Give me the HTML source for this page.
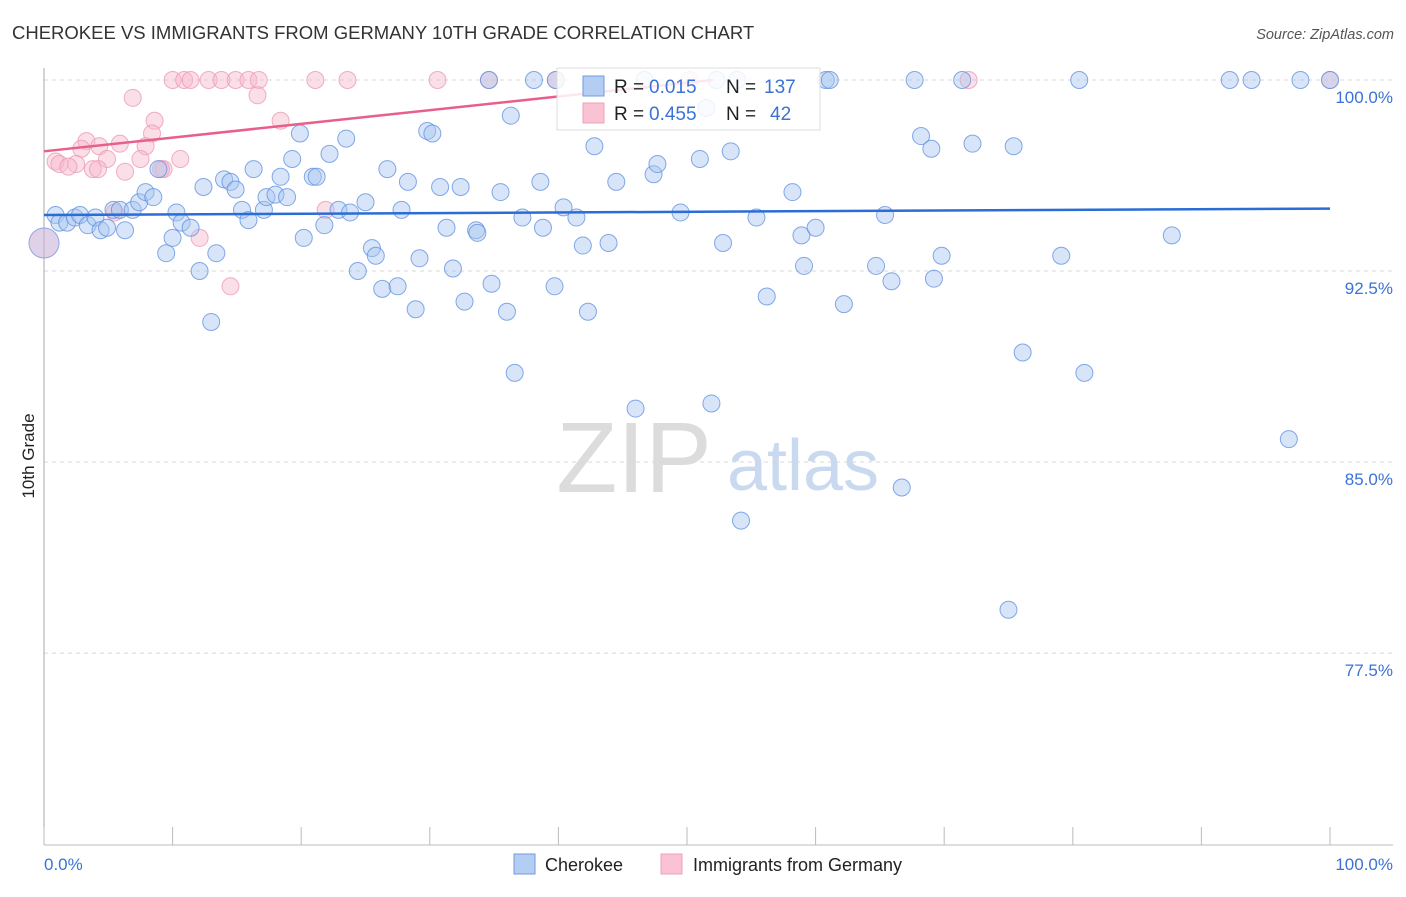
<!DOCTYPE html>
<html><head><meta charset="utf-8"><style>
body{margin:0;background:#fff;font-family:"Liberation Sans",sans-serif}
svg text{font-family:"Liberation Sans",sans-serif}
</style></head><body>
<svg id="chart" width="1406" height="892" xmlns="http://www.w3.org/2000/svg">
<text x="12" y="39" font-size="18.5" fill="#333">CHEROKEE VS IMMIGRANTS FROM GERMANY 10TH GRADE CORRELATION CHART</text>
<text x="1394" y="39" font-size="14.5" fill="#555" font-style="italic" text-anchor="end">Source: ZipAtlas.com</text>
<text x="0" y="0" font-size="17" fill="#222" transform="translate(34,456) rotate(-90)" text-anchor="middle">10th Grade</text>
<g>
<text x="634" y="492" font-size="100" fill="#dcdcdc" font-family="Liberation Serif" text-anchor="middle">ZIP</text>
<text x="803" y="490" font-size="72" fill="#c9d9f0" text-anchor="middle">atlas</text>
</g>
<g id="grid"></g>
<g id="axes"></g>
<g id="pinkPts"></g>
<g id="bluePts"></g>
<g id="trends"></g>
<g>
<rect x="557" y="68" width="263" height="62" fill="#fff" fill-opacity="0.85" stroke="#ddd"/>
<rect x="583" y="76" width="21" height="20" fill="#b3cdf3" stroke="#6f9be0"/>
<rect x="583" y="103" width="21" height="20" fill="#f9c3d3" stroke="#eea1b8"/>
<text x="614" y="93" font-size="19" fill="#222">R = </text><text x="649" y="93" font-size="19" fill="#3a73d6">0.015</text>
<text x="726" y="93" font-size="19" fill="#222">N = </text><text x="764" y="93" font-size="19" fill="#3a73d6">137</text>
<text x="614" y="120" font-size="19" fill="#222">R = </text><text x="649" y="120" font-size="19" fill="#3a73d6">0.455</text>
<text x="726" y="120" font-size="19" fill="#222">N = </text><text x="770" y="120" font-size="19" fill="#3a73d6">42</text>
</g>
<g>
<rect x="514" y="854" width="21" height="20" fill="#b3cdf3" stroke="#6f9be0"/>
<text x="545" y="871" font-size="18" fill="#222">Cherokee</text>
<rect x="661" y="854" width="21" height="20" fill="#f9c3d3" stroke="#eea1b8"/>
<text x="693" y="871" font-size="18" fill="#222">Immigrants from Germany</text>
</g>
</svg>
<script>
const yTicks=[100,92.5,85,77.5];
const yTickLabels=["100.0%","92.5%","85.0%","77.5%"];
const xTicks=[0,10,20,30,40,50,60,70,80,90,100];
const xEndLabels=["0.0%","100.0%"];
const blueX=[0.9,1.2,1.8,2.4,2.8,3.4,4.0,4.4,4.9,5.4,5.9,6.3,6.9,7.4,7.9,8.5,8.9,9.5,10.0,10.3,10.7,11.4,12.1,12.4,13.0,13.4,14.0,14.5,14.9,15.4,15.9,16.3,17.1,17.3,18.0,18.4,18.9,19.3,19.9,20.2,20.9,21.2,21.8,22.2,22.9,23.5,23.8,24.4,25.0,25.5,25.8,26.3,26.7,27.5,27.8,28.3,28.9,29.2,29.8,30.2,30.8,31.3,31.8,32.4,32.7,33.6,33.7,34.8,35.5,36.0,36.3,36.6,37.2,38.1,38.6,38.8,39.7,40.4,41.4,41.9,42.3,42.8,43.9,44.5,46.0,47.4,47.7,49.5,51.0,51.9,52.8,53.4,54.2,55.4,56.2,58.2,58.9,59.1,60.0,60.8,61.1,62.2,64.7,65.4,65.9,66.7,67.7,68.2,69.0,69.2,69.8,71.4,72.2,75.0,75.4,76.1,79.1,80.5,80.9,87.7,92.2,93.9,96.8,97.7,100,34.6,39.8,52.3,53.9,51.5,46.7];
const blueY=[94.7,94.4,94.4,94.6,94.7,94.3,94.6,94.1,94.2,94.9,94.9,94.1,94.9,95.2,95.6,95.4,96.5,93.2,93.8,94.8,94.4,94.2,92.5,95.8,90.5,93.2,96.1,96.0,95.7,94.9,94.5,96.5,94.9,95.4,95.5,96.2,95.4,96.9,97.9,93.8,96.2,96.2,94.3,97.1,94.9,97.7,94.8,92.5,95.2,93.4,93.1,91.8,96.5,91.9,94.9,96.0,91.0,93.0,98.0,97.9,95.8,94.2,92.6,95.8,91.3,94.1,94.0,92.0,95.6,90.9,98.6,88.5,94.6,100,96.0,94.2,91.9,95.0,94.6,93.5,90.9,97.4,93.6,96.0,87.1,96.3,96.7,94.8,96.9,87.3,93.6,97.2,82.7,94.6,91.5,95.6,93.9,92.7,94.2,100,100,91.2,92.7,94.7,92.1,84.0,100,97.8,97.3,92.2,93.1,100,97.5,79.2,97.4,89.3,93.1,100,88.5,93.9,100,100,85.9,100,100,100,100,100,100,98.9,100];
const pinkX=[10.0,10.9,11.4,12.8,13.8,14.9,15.9,16.7,21.1,23.6,6.9,16.6,8.6,18.4,8.4,7.9,3.3,4.3,2.9,5.9,4.9,2.5,0.9,1.2,1.9,3.8,6.3,7.5,10.6,9.3,4.2,9.1,21.9,5.5,12.1,14.5,30.6,34.6,39.8,50.2,71.9,100];
const pinkY=[100,100,100,100,100,100,100,100,100,100,99.3,99.4,98.4,98.4,97.9,97.4,97.6,97.4,97.3,97.5,96.9,96.7,96.8,96.7,96.6,96.5,96.4,96.9,96.9,96.5,96.5,96.5,94.9,94.8,93.8,91.9,100,100,100,100,100,100];
const blueTrend=[94.7,94.95];
const pinkTrend=[97.2,100];
const pinkTrendEnd=52;
const NS="http://www.w3.org/2000/svg";
const X=v=>44+v*12.86, Y=v=>80+(100-v)*25.47;
function mk(tag,attrs,parent){const e=document.createElementNS(NS,tag);for(const k in attrs)e.setAttribute(k,attrs[k]);parent.appendChild(e);return e;}
const grid=document.getElementById('grid'),axes=document.getElementById('axes');
yTicks.forEach((t,i)=>{
 const l=mk('line',{x1:44,x2:1393,y1:Y(t),y2:Y(t),stroke:'#d8d8d8','stroke-dasharray':'4,4'},grid);
 
 
 const tx=mk('text',{x:1393,y:Y(t)+23,'font-size':17,fill:'#3a73d6','text-anchor':'end'},axes);
 tx.textContent=yTickLabels[i];
 
 
});
const ax=mk('line',{x1:44,x2:44,y1:68,y2:845,stroke:'#aaa'},axes);


const bx=mk('line',{x1:44,x2:1393,y1:845,y2:845,stroke:'#bbb'},axes);


xTicks.forEach(t=>{
 const l=mk('line',{x1:X(t),x2:X(t),y1:827,y2:845,stroke:'#bbb'},axes);
 
 
});
[[0,'start',xEndLabels[0]],[100,'end',xEndLabels[1]]].forEach(([v,a,s])=>{
 const t=mk('text',{x:v===0?X(v):1393,y:870,'font-size':17,fill:'#3a73d6','text-anchor':a},axes);
 t.textContent=s;
 
 
});
const pg=document.getElementById('pinkPts'),bg=document.getElementById('bluePts');
pinkX.forEach((x,i)=>{
 const c=mk('circle',{cx:X(x),cy:Y(pinkY[i]),r:8.5,fill:'#f7b8cb','fill-opacity':0.45,stroke:'#eb9bb4','stroke-opacity':0.8},pg);
 
 
});
blueX.forEach((x,i)=>{
 const c=mk('circle',{cx:X(x),cy:Y(blueY[i]),r:8.5,fill:'#a9c6f0','fill-opacity':0.45,stroke:'#5b8ee0','stroke-opacity':0.75},bg);
 
 
});
const big=mk('circle',{cx:X(0),cy:Y(93.6),r:15,fill:'#c9b4d8','fill-opacity':0.6,stroke:'#8fa6e0'},bg);


const tg=document.getElementById('trends');
const bl=mk('line',{x1:X(0),y1:Y(blueTrend[0]),x2:X(100),y2:Y(blueTrend[1]),stroke:'#2a6dd6','stroke-width':2.5},tg);


const pl=mk('line',{x1:X(0),y1:Y(pinkTrend[0]),x2:X(pinkTrendEnd),y2:Y(pinkTrend[1]),stroke:'#e8608a','stroke-width':2.5},tg);


</script>
</body></html>
